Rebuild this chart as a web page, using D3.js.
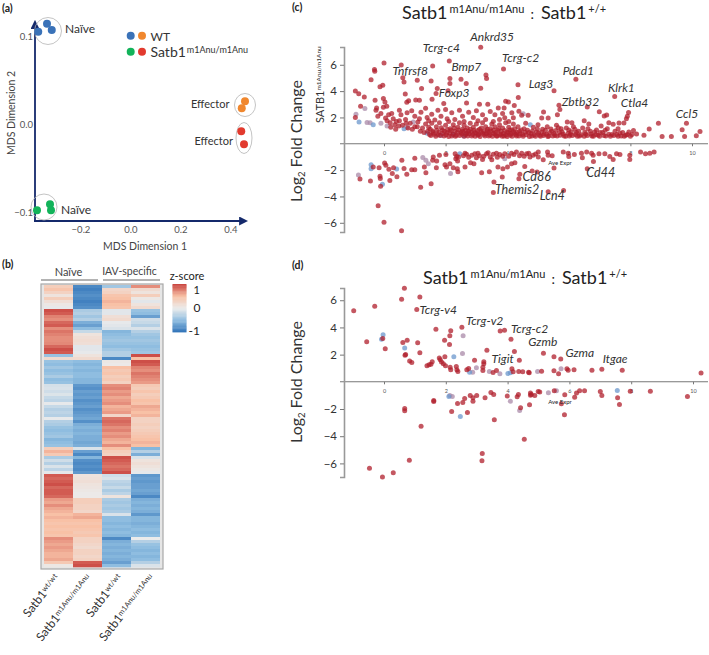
<!DOCTYPE html>
<html><head><meta charset="utf-8">
<script src="https://cdn.jsdelivr.net/npm/d3@7"></script>
<style>html,body{margin:0;padding:0;background:#fff}svg{display:block}text{font-family:Lato,"Open Sans",sans-serif}</style>
</head><body><svg id="c" width="709" height="655"></svg>
<script>
// ---------- panel (a) MDS ----------
const mdsWtNaive=[[-0.336,0.115],[-0.317,0.108],[-0.371,0.106]];
const mdsWtEff=[[0.456,0.027],[0.443,0.019]];
const mdsMutNaive=[[-0.376,-0.097],[-0.324,-0.09],[-0.32,-0.097]];
const mdsMutEff=[[0.441,-0.007],[0.452,-0.022]];
const mdsXTicks=[-0.2,0,0.2,0.4];
const mdsYTicks=[-0.1,0,0.1];
// ---------- panel (b) heatmap z-scores ----------
const hmCol1=[.35,.45,.3,.1,.35,.15,.05,-.02,.95,.9,.75,.7,.85,.9,.7,.8,.75,.7,.7,.72,.85,.95,.9,-.45,.2,-.45,-.5,-.4,-.5,-.45,-.35,-.5,-.45,-.12,-.1,-.15,-.08,-.2,-.25,-.02,-.2,-.3,-.25,-.3,-.02,-.3,-.35,-.45,-.5,-.45,-.4,-.55,-.5,-.45,.35,.55,.4,-.35,-.15,-.3,-.1,-.25,-.03,.9,.85,.9,.95,.85,.9,.9,.85,.65,.6,.7,.6,.55,.5,.55,.5,.45,.5,.45,.5,.45,.7,.65,.6,.65,.6,.55,.55,.6,.4,.05];
const hmCol2=[-.85,-.9,-.85,-.8,-.85,-.9,-.85,-.8,-.35,-.3,-.4,-.3,-.6,-.7,-.5,-.2,.1,.15,.18,.15,-.05,-.05,-.02,.1,.2,-.5,-.55,-.5,-.55,-.5,-.5,-.55,-.55,-.75,-.8,-.7,-.75,-.7,-.8,-.75,-.7,-.8,-.75,-.7,-.65,-.8,-.6,-.55,-.6,-.55,-.6,-.6,-.65,-.6,-.1,-.7,-.85,-.55,-.8,-.85,-.8,-.85,-.75,.1,.12,.15,.1,.08,.05,.02,.02,.35,.35,.3,.3,.25,.55,.6,.5,.45,.5,.45,.4,.45,.3,.3,.25,.2,.3,.3,.25,.3,.9,.95];
const hmCol3=[-.4,.25,.3,.45,.5,.55,.5,.45,-.05,-.05,.15,.2,-.02,-.05,-.1,-.55,-.5,-.45,-.4,-.45,-.5,-.4,-.3,-.3,-.85,.05,.02,.5,.4,.45,.35,.4,.3,.7,.75,.65,.7,.6,.65,.7,.55,.6,.65,.25,.8,.85,.8,.7,.75,.65,.7,.6,.55,.7,.5,.35,.3,.95,.9,.85,.8,.85,.95,-.15,-.1,-.25,-.3,-.2,-.35,-.25,.1,-.35,-.4,-.35,-.4,-.35,-.1,-.5,-.5,-.55,-.5,-.55,-.5,-.55,-.85,-.6,-.55,-.6,-.55,-.6,-.55,-.6,-.7,-.5];
const hmCol4=[.7,.2,.1,.35,.05,-.05,.1,.2,-.45,-.5,-.7,-.15,-.2,-.3,-.1,-.3,-.4,-.45,-.4,-.45,-.5,-.45,-.4,.95,.5,.95,.9,.75,.7,.8,.75,.7,.65,.4,.35,.45,.35,.4,.5,.45,.6,.55,.5,.55,.3,.3,.35,.3,.35,.4,.45,.5,.55,.5,-.55,-.3,-.6,-.1,.1,.15,.1,.05,-.02,-.75,-.7,-.75,-.7,-.7,-.65,-.7,-.85,-.6,-.55,-.6,-.55,-.6,-.75,-.55,-.55,-.6,-.55,-.5,-.55,-.5,0,-.3,-.45,-.5,-.55,-.5,-.55,-.5,-.3,-.1];
const hmStops=[-1,-.5,0,.5,1];
const hmColors=["#2f72b8","#8fbde0","#ebebeb","#f8c1a6","#c8423d"];
// ---------- panel (c) MA plot ----------
const cRed=[[-.93,4],[-.82,3.8],[-.64,3.56],[-.42,4.86],[-.31,5.65],[-.3,5.5],[0,6.13],[-.13,4.33],[-.04,4.45],[.56,5.98],[.61,5.01],[.65,4.7],[1.08,4.83],[1.22,4.2],[.69,3.79],[.8,3.26],[.74,3.16],[1.03,3.33],[1.15,3.31],[1.53,4.76],[1.58,5.9],[1.73,4.2],[1.69,3.82],[1.56,3.38],[1.94,3.05],[2.14,4.96],[2.14,4.58],[2.12,6.28],[2.08,4.02],[2.5,4.91],[2.67,4.58],[3.14,7.33],[3.14,4.22],[3.31,5.22],[3.33,4.96],[2.68,3.1],[3.1,3],[3.37,3],[-.76,2.85],[-.29,3.3],[-.24,2.72],[-.26,2.54],[-.02,3.43],[.03,3.18],[.09,2.85],[-.02,2.78],[3.88,5.67],[4.35,4.48],[4.36,3.51],[5.52,4.02],[6.23,4.91],[7.49,3.59],[7.94,2.37],[7.9,2.09],[7.87,1.9],[6.99,2.44],[7.23,2.19],[7.15,2.11],[6.6,2.8],[5.68,2.93],[5.71,2.6],[5.63,2.21],[5.18,2.42],[5.33,1.96],[5.12,1.96],[3.95,3.23],[4.04,3.18],[4.23,2.9],[3.71,2.72],[3.9,2.72],[4.38,2.47],[4.47,2.16],[4.68,2.16],[3.92,1.98],[4.2,1.98],[8.91,1.55],[8.61,1.12],[8.44,.64],[9.03,.56],[9.33,.56],[9.76,.56],[9.82,1.55],[9.68,1.07],[10.14,.61],[10.26,.94],[7.79,1.58],[7.63,1.58],[7.6,1.14],[7.44,1.48],
[.15,2.2],[.3,1.9],[.5,2.55],[.55,2.2],[.7,1.85],[.75,2.35],[.9,2.5],[1,2.1],[1.15,1.9],[1.2,2.4],[1.35,2.7],[1.4,2],[1.55,2.25],[1.65,1.8],[1.75,2.55],[1.85,2.1],[2,2.6],[2.05,1.9],[2.2,2.35],[2.3,1.85],[2.45,2.55],[2.55,2.1],[2.6,1.7],[2.75,2.4],[2.9,2],[3,2.5],[3.05,1.75],[3.2,2.2],[3.3,1.85],[3.45,2.45],[3.55,1.7],[3.6,2.2],[3.75,1.85],[3.85,2.3],[4.05,1.7],[4.15,2.35],
[.2,1.6],[.35,1.45],[.5,1.75],[.6,1.4],[.85,1.55],[1,1.3],[1.1,1.65],[1.25,1.2],[1.35,1.5],[1.5,1.1],[1.55,1.55],[1.6,.85],[1.7,1.3],[1.75,.7],[1.8,1.6],[1.9,1.05],[1.95,.6],[2,1.4],[2.05,.85],[2.1,1.7],[2.15,1.15],[2.2,.6],[2.25,1.45],[2.3,.95],[2.35,.65],[2.4,1.25],[2.45,1.6],[2.5,.85],[2.55,1.1],[2.6,1.4],[2.65,.7],[2.7,1.2],[2.75,.95],[2.8,1.55],[2.85,.6],[2.9,1.25],[2.95,.85],[3,1.5],[3.05,.65],[3.1,1.1],[3.15,.9],[3.2,1.6],[3.25,.7],[3.3,1.3],[3.35,.95],[3.4,.6],[3.45,1.15],[3.5,1.5],[3.55,.8],[3.6,1.3],[3.65,.6],[3.7,1],[3.75,1.45],[3.8,.75],[3.85,1.2],[3.9,.6],[3.95,1.6],[4,.9],[4.05,1.25],[4.1,.65],[4.15,1.05],[4.2,1.5],[4.25,.8],[4.3,.6],[4.35,1.3],[4.4,.95],[4.5,.7],[4.55,1.15],[4.6,1.55],[4.7,.85],[4.8,.6],[4.85,1.25],[4.95,.9],[5,1.45],[5.05,.65],[5.15,1.1],[5.2,.75],[5.3,1.3],[5.35,.6],[5.45,.95],[5.55,.65],[5.6,1.4],[5.7,.85],[5.75,1.15],[5.85,.6],[5.95,1.65],[6,1.05],[6.05,.7],[6.1,1.6],[6.15,1.3],[6.25,.85],[6.35,.6],[6.45,1.2],[6.5,1.75],[6.55,.75],[6.65,1.5],[6.7,.95],[6.75,.6],[6.9,1.05],[6.95,.65],[7.05,1.35],[7.1,.85],[7.2,.6],[7.25,1.15],[7.3,1.6],[7.4,.7],[7.5,.95],[7.7,.6],[7.75,.85],[7.85,.65],[7.95,.9],[8.05,.7],[8.1,1],[8.2,.75],
[-.93,2],[.05,1.95],[.25,2.3],[.4,1.7],[1.45,1.75],[-.2,2.1],[-.1,2.3],[.1,1.75],
[1.52,.62],[1.58,.98],[1.63,.72],[1.68,.58],[1.72,1.02],[1.78,.88],[1.82,.62],[1.86,1.22],[1.9,.78],[1.96,.95],[2.02,.68],[2.06,1.08],[2.1,.56],[2.14,.82],[2.18,1],[2.24,.72],[2.28,1.2],[2.32,.58],[2.38,.88],[2.42,1.05],[2.46,.62],[2.52,.74],[2.56,.95],[2.6,.58],[2.64,1.02],[2.68,.82],[2.72,.6],[2.76,.76],[2.8,1.1],[2.84,.9],[2.88,.7],[2.92,1.02],[2.96,.58],[3,.8],[3.04,1],[3.08,.72],[3.12,.56],[3.16,1.2],[3.2,.82],[3.24,.98],[3.28,.6],[3.32,.76],[3.36,1.1],[3.4,.85],[3.44,.66],[3.48,.98],[3.52,.58],[3.56,1.05],[3.6,.74],[3.64,.88],[3.68,.6],[3.72,1.15],[3.76,.66],[3.8,.95],[3.84,.58],[3.88,.78],[3.92,1],[3.96,.66],[4,.56],[4.04,.85],[4.08,1.05],[4.12,.76],[4.16,.58],[4.2,.92],[4.24,1.15],[4.28,.7],[4.32,.88],[4.38,.6],[4.42,.75],[4.46,1.05],[4.52,.58],[4.58,.88],[4.62,.68],[4.66,1.02],[4.72,.56],[4.78,.78],[4.82,.98],[4.88,.66],[4.92,.58],[4.98,1.12],[5.02,.82],[5.08,.58],[5.12,.9],[5.18,.62],[5.24,1.02],[5.28,.72],[5.32,.56],[5.38,.84],[5.42,1.12],[5.48,.6],[5.52,.78],[5.58,1],[5.62,.6],[5.66,1.22],[5.72,.65],[5.78,.92],[5.82,.74],[5.9,.58],[5.92,1.2],[5.98,.8],[6.02,.6],[6.08,.92],[6.12,.62],[6.2,1.1],[6.22,.7],[6.28,.58],[6.32,.95],[6.4,.68],[6.5,.58],[6.52,.88],[6.6,.62],[6.62,1.15],[6.72,.75],[6.8,.58],[6.84,.9],[6.88,.7],[7.0,.58],[7.02,.85],[7.14,.62],[7.18,1.02],[7.3,.72],[7.35,.58],[7.46,.62],[7.56,.7],[7.6,.58],[7.66,.82],[7.8,.58],[7.9,.7],[8,.58],
[.22,1.25],[.38,1.1],[.48,1.35],[.72,1.55],[.78,1.2],[.92,1.1],[1.08,1.3],[1.18,.95],[1.3,.85],[1.42,.95],[1.45,1.25],[1.48,.7],
[-.78,-2.68],[-.44,-2.83],[-.35,-1.77],[-.16,-1.82],[-.13,-2.47],[-.12,-2.63],[-.11,-3.23],[-.19,-4.7],[0,-5.96],[.57,-6.6],[.02,-1.46],[.06,-1.64],[.16,-1.94],[.31,-1.82],[.27,-2.25],[.42,-2.5],[.19,-2.78],[.58,-1.26],[.65,-1.87],[.74,-2.32],[.9,-1.97],[1,-1.97],[1,-1.09],[1.31,-1.77],[1.36,-2.2],[1.19,-3.31],[1.53,-3.03],[1.6,-1.01],[1.58,-1.26],[1.71,-1.31],[1.7,-1.82],[1.8,-.88],[2.01,-.81],[1.98,-1.6],[2.03,-1.77],[2.14,-1.52],[2.31,-.76],[2.36,-.96],[2.33,-1.14],[2.39,-1.31],[2.25,-1.82],[2.38,-1.89],[2.4,-2.12],[2.63,-1.77],[2.63,-.71],[2.68,-.8],[2.85,-.88],[2.95,-.76],[3,-1.06],[2.81,-1.44],[2.92,-1.52],[3.17,-2.2],[3.42,-2.12],[3.57,-2.9],[3.55,-3.7],[3.33,-.76],[3.1,-.9],[3.2,-1.2],[3.45,-1],[3.55,-.8],
[2.42,-1.0],[2.58,-.9],[2.75,-1.02],[3.05,-.72],[3.24,-.95],[3.38,-.68],[3.5,-1.22],[3.68,-1.02],[3.85,-.95],[4.05,-.95],[4.22,-.82],[4.4,-.9],[4.55,-.95],[4.7,-.72],[4.92,-.78],
[3.7,-1.77],[3.86,-1.89],[4.01,-1.77],[4.14,-1.52],[4.25,-1.44],[3.84,-2.53],[4.41,-2.32],[4.38,-2.65],[4.57,-1.72],[4.81,-2.07],[4.97,-2.15],[5.33,-3.64],[5.83,-3.54],[5.52,-1.84],[6.6,-1.89],[6.8,-1.34],[7.98,-1.19],
[3.65,-.71],[3.76,-.81],[3.92,-.76],[4.14,-.71],[4.3,-.63],[4.47,-.71],[4.63,-.76],[4.74,-1.01],[4.84,-.88],[5.01,-.63],[5.01,-1.01],[5.17,-1.22],[5.31,-.63],[5.33,-.88],[5.46,-.91],[5.82,-.63],[5.98,-.71],[6,-.96],[6.18,-.81],[6.41,-.71],[6.44,-1.06],[6.58,-.63],[6.74,-.71],[6.79,-.88],[6.98,-.76],[7.17,-.76],[7.33,-.96],[7.44,-1.19],[7.55,-.76],[7.66,-.81],[7.98,-.88],[8.33,-.63],[8.49,-.76],[8.63,-.71],[8.77,-.63]];
const cPurple=[[-.62,2.67],[-.91,2.24],[-.55,1.62],[-.45,1.6],[-.1,1.55],[.1,1.35],[.75,1.25],[.95,1.65],[4.52,2.29],[-.83,-2.37],[1.26,-1.04],[1.36,-1.26],[1.44,-1.52],[2.16,-2.25],[3.92,-1.14]];
const cBlue=[[-.81,1.65],[-.35,1.45],[.65,1.15],[1.4,.8],[1.85,.65],[2.25,.7],[2.7,.8],[2.6,.6],[4.75,1.45],[-.42,-1.6],[-.42,-1.9],[.41,-1.92],[-.05,-3.08],[2.46,-.76]];
// ---------- panel (d) MA plot ----------
const dRed=[[-.98,5.22],[-.3,5.56],[.57,6.08],[.66,6.89],[1.16,6.23],[1.06,5.32],[-.56,2.94],[-.04,3.19],[.04,2.43],[.61,2.89],[.75,3.06],[1.09,2.87],[1.16,2.13],[.68,1.96],[.7,2.01],[.83,1.54],[.9,1.42],[1.39,1.18],[1.46,1.25],[1.52,1.3],[1.56,1.47],[1.68,3.87],[2.16,3.75],[2.13,3.38],[1.96,3.06],[2.12,2.75],[2.52,4.02],[3.33,2.33],[2.93,1.59],[3.23,1.47],[3.23,1.32],[1.79,1.76],[1.82,1.62],[1.86,1.45],[1.92,1.32],[1.97,1.84],[1.99,1.18],[2.14,1.08],[2.16,.88],[2.34,1.13],[2.36,.88],[2.39,.76],[2.68,.88],[2.74,.98],[3.2,1.08],[3.2,.83],[3.53,.69],[3.76,3.73],[3.9,3.8],[4.11,3.14],[4.22,2.23],[4.38,1.59],[5.16,2.11],[5.5,1.84],[5.72,1.67],[3.64,.83],[4.14,.96],[4.18,.74],[4.36,.76],[4.49,.74],[4.68,.71],[4.7,.66],[5.1,.78],[5.5,.81],[5.65,.59],[5.92,.96],[5.96,.86],[6.15,.88],[6.73,.86],[7.05,.93],[7.71,.86],[10.26,.64],
[-.47,-6.35],[-.05,-7],[.3,-6.69],[.82,-5.76],[1.2,-3.26],[.67,-1.96],[.67,-2.13],[1.61,-1.37],[1.61,-1.45],[2.38,-1.59],[2.55,-1.52],[2.61,-1.23],[2.19,-2.18],[2.7,-2.25],[2.79,-1],[2.88,-1.18],[2.88,-1.42],[3,-1],[3.27,-1.18],[3.46,-.78],[3.55,-.93],[3.57,-2.79],[3.18,-5.27],[3.17,-5.81],[3.99,-1.05],[4.31,-1.1],[4.35,-.93],[4.42,-1.91],[4.54,-4.22],[4.71,-1.69],[4.74,-.83],[4.74,-.98],[4.77,-.93],[4.88,-1],[4.99,-.71],[5.04,-.74],[5.51,-.66],[5.74,-1.62],[5.85,-.96],[5.84,-2.43],[6.17,-1.13],[6.23,-.83],[6.33,-.66],[6.49,-.66],[7,-.71],[7.05,-1],[7.56,-1.18],[7.62,-1.67],[7.97,-.69],[8.62,-.69],[9.82,-1.08]];
const dPurple=[[2.56,3.38],[2.54,2.08],[2.87,.71],[2.99,1.03],[3.41,.76],[3.75,.59],[4.97,.76],[5.73,.96],[2.13,-1],[2.21,-1.08],[4.09,-1.42],[4.39,-2.11],[5.32,-.81],[5.58,-.66]];
const dBlue=[[-.03,3.46],[-.08,3.14],[.67,2.48],[2.26,1.84],[2.77,.71],[4.01,.61],[4.09,.66],[2.1,-1.08],[2.47,-2.55],[7.55,-.64]];
const maXTicks=[0,2,4,6,8,10];
const maYTicks=[-6,-4,-2,2,4,6];
// gene labels
const cGenes=["Tcrg-c4","Ankrd35","Tnfrsf8","Bmp7","Foxp3","Tcrg-c2","Lag3","Pdcd1","Klrk1","Zbtb32","Ctla4","Ccl5"];
const cGeneAt=[[1.26,7.0],[2.8,7.8],[.28,5.2],[2.19,5.5],[1.78,3.55],[3.83,6.2],[4.7,4.2],[5.8,5.2],[7.27,3.9],[5.77,2.85],[7.69,2.8],[9.47,1.95]];
const cGenesLow=["Cd44","Cd86","Themis2","Lcn4"];
const cGeneLowAt=[[6.57,-2.5],[4.5,-2.8],[3.6,-3.8],[5.06,-4.3]];
const dGenes=["Tcrg-v4","Tcrg-v2","Tcrg-c2","Gzmb","Gzma","Itgae","Tigit"];
const dGeneAt=[[1.15,5],[2.65,4.2],[4.11,3.6],[4.67,2.65],[5.87,1.85],[7.08,1.4],[3.48,1.4]];

const svg=d3.select("#c");
const NAVY="#14296b", TXT="#333";
const add=(t,x,y,s,o={})=>svg.append("text").attr("x",x).attr("y",y).attr("font-size",s).attr("fill",o.fill||TXT)
  .attr("text-anchor",o.anchor||"start").attr("font-style",o.style||null).attr("font-weight",o.weight||null)
  .attr("font-family",o.family||null).attr("transform",o.rot?`rotate(${o.rot} ${x} ${y})`:null).text(t);
function rich(x,y,parts,o={}){
  const t=svg.append("text").attr("x",x).attr("y",y).attr("fill",o.fill||TXT).attr("text-anchor",o.anchor||"start")
    .attr("transform",o.rot?`rotate(${o.rot} ${x} ${y})`:null);
  parts.forEach(p=>{t.append("tspan").attr("font-size",p[1]).attr("dy",p[2]||0).attr("dx",p[3]||0).text(p[0]);});
  return t;
}
["(a)","(b)","(c)","(d)"].forEach((l,i)=>add(l,[2,2,292,292][i],[12,268,11,269][i],10.5,{weight:"bold",family:"Liberation Sans",fill:"#222"}));

// ---- panel a
const ax=d3.scaleLinear().domain([0,.4]).range([131,231]);
const ay=d3.scaleLinear().domain([-.1,.1]).range([213,37]);
svg.append("defs").append("marker").attr("id","arr").attr("viewBox","0 0 10 10").attr("refX",1).attr("refY",5)
 .attr("markerWidth",9).attr("markerHeight",9).attr("markerUnits","userSpaceOnUse").attr("orient","auto")
 .append("path").attr("d","M0,0L10,5L0,10Z").attr("fill",NAVY);
svg.append("line").attr("x1",35).attr("y1",221).attr("x2",35).attr("y2",28).attr("stroke",NAVY).attr("stroke-width",1.8).attr("marker-end","url(#arr)");
svg.append("line").attr("x1",34).attr("y1",221).attr("x2",240).attr("y2",221).attr("stroke",NAVY).attr("stroke-width",1.8).attr("marker-end","url(#arr)");
mdsXTicks.forEach(v=>add(d3.format(".1f")(v),ax(v),232.5,9.5,{anchor:"middle",fill:"#555"}));
mdsYTicks.forEach(v=>add(d3.format(".1f")(v),33,ay(v)+3,9.5,{anchor:"end",fill:"#555"}));
add("MDS Dimension 1",145,250,10.5,{anchor:"middle",fill:"#444"});
add("MDS Dimension 2",11,113,10.5,{anchor:"middle",rot:-90,fill:"#444"}).attr("dy",4);
[[48,31,13.5,13.5],[44,207,13,13],[245,105,10.5,11.5],[244,138,8,15.5]].forEach(e=>svg.append("ellipse").attr("cx",e[0]).attr("cy",e[1]).attr("rx",e[2]).attr("ry",e[3]).attr("fill","none").attr("stroke","#b5b5b5").attr("stroke-width",.8));
[[mdsWtNaive,"#3a72b8"],[mdsWtEff,"#f0872e"],[mdsMutNaive,"#12b35a"],[mdsMutEff,"#e23a2e"]].forEach(([d,c])=>
 svg.append("g").selectAll("circle").data(d).join("circle").attr("cx",p=>ax(p[0])).attr("cy",p=>ay(p[1])).attr("r",4).attr("fill",c));
[[130.7,35.7,"#3a72b8"],[142,35.7,"#f0872e"],[130.7,51.7,"#12b35a"],[142,51.7,"#e23a2e"]].forEach(l=>svg.append("circle").attr("cx",l[0]).attr("cy",l[1]).attr("r",4).attr("fill",l[2]));
add("WT",150.5,41,12,{fill:"#333"});
rich(150.5,57,[["Satb1",14],["m1Anu/m1Anu",9,-4,1]]);
add("Naïve",65,33,12);add("Naïve",61,214,12);add("Effector",191,108,11);add("Effector",194.5,145,11);

// ---- panel b
const hmCols=[hmCol1,hmCol2,hmCol3,hmCol4];
const hmColor=d3.scaleLinear().domain(hmStops).range(hmColors);
svg.append("rect").attr("x",41).attr("y",284).attr("width",122).attr("height",285).attr("fill","#e6e6e6").attr("stroke","#a8a8a8").attr("stroke-width",1.2);
const hx=d3.scaleBand().domain([0,1,2,3]).range([44,160]);
const hy=d3.scaleBand().domain(d3.range(hmCol1.length)).range([285,567]);
hmCols.forEach((col,i)=>svg.append("g").selectAll("rect").data(col).join("rect")
  .attr("x",hx(i)).attr("width",hx.bandwidth()).attr("y",(d,j)=>hy(j)).attr("height",hy.bandwidth()+.3).attr("fill",d=>hmColor(d)));
add("Naïve",68.5,276,11,{anchor:"middle",fill:"#444"});
add("IAV-specific",129.5,275,10.5,{anchor:"middle",fill:"#444"});
[[41,98],[103,160]].forEach(l=>svg.append("line").attr("x1",l[0]).attr("x2",l[1]).attr("y1",280).attr("y2",280).attr("stroke","#555").attr("stroke-width",.9));
[[60,"wt/wt"],[92,"m1Anu/m1Anu"],[123,"wt/wt"],[155,"m1Anu/m1Anu"]].forEach(l=>rich(l[0],578,[["Satb1",12],[l[1],7.5,-3]],{anchor:"end",rot:-52}));
// colour bar
const barY=d3.scaleLinear().domain([-1,1]).range([332,284]);
svg.append("g").selectAll("rect").data(d3.range(-1,1,.05)).join("rect").attr("x",172.5).attr("width",14)
  .attr("y",d=>barY(d+.05)).attr("height",1.6).attr("fill",d=>hmColor(d+.025));
add("z-score",187,280,11,{anchor:"middle",fill:"#222"});
add("1",193.5,294,11,{fill:"#222"});add("0",193.5,312,12,{fill:"#222"});add("-1",188.5,335,12,{fill:"#222"});

// ---- panels c & d
function ma(xs,ys,red,purple,blue,labelY,genes,at,axisEnd){
  const gx=svg.append("g").attr("transform",`translate(0,${ys(0)})`).call(d3.axisBottom(xs).tickValues(maXTicks).tickSize(2.5).tickPadding(5));
  gx.select(".domain").remove();
  svg.append("line").attr("x1",340).attr("x2",axisEnd).attr("y1",ys(0)).attr("y2",ys(0)).attr("stroke","#777").attr("stroke-width",1.1);
  gx.selectAll("text").attr("font-size",5.5).attr("fill","#555").style("font-family","Lato");
  gx.selectAll("line").attr("stroke","#777");
  const gy=svg.append("g").attr("transform","translate(344,0)").call(d3.axisLeft(ys).tickValues(maYTicks).tickSize(4).tickPadding(3).tickFormat(d3.format("d")));
  gy.select(".domain").attr("stroke","#999").attr("stroke-width",1.6);
  gy.selectAll("line").attr("stroke","#777");
  gy.selectAll("text").attr("font-size",11.5).attr("fill","#333").style("font-family","Lato");
  [[purple,"#a98aa8"],[blue,"#6b97cc"],[red,"#b01f2c"]].forEach(([d,c])=>
    svg.append("g").selectAll("circle").data(d).join("circle").attr("cx",p=>xs(p[0])).attr("cy",p=>ys(p[1])).attr("r",2.5).attr("fill",c).attr("opacity",.75));
  add("Ave Expr",560,ys(0)+labelY,6,{anchor:"middle",fill:"#222"});
  genes.forEach((g,i)=>add(g,xs(at[i][0]),ys(at[i][1]),12,{style:"italic",fill:"#333"}));
}
const cx=d3.scaleLinear().domain([0,10]).range([384,692]);
const cy=d3.scaleLinear().domain([-6.7,7.35]).range([232,47]);
ma(cx,cy,cRed,cPurple,cBlue,21.5,cGenes,cGeneAt,708);
cGenesLow.forEach((g,i)=>add(g,cx(cGeneLowAt[i][0]),cy(cGeneLowAt[i][1]),12.5,{style:"italic",fill:"#333"}));
const dx=d3.scaleLinear().domain([0,10]).range([384,693]);
const dy=d3.scaleLinear().domain([-7,6.9]).range([477,288]);
ma(dx,dy,dRed,dPurple,dBlue,22,dGenes,dGeneAt,708);
rich(402,19,[["Satb1",18],["m1Anu/m1Anu",11,-6,2],[":",14,6,6],["Satb1",18,0,7],["+/+",11,-6,2]],{fill:"#222"});
rich(423,284,[["Satb1",18],["m1Anu/m1Anu",11,-6,2],[":",14,6,6],["Satb1",18,0,7],["+/+",11,-6,2]],{fill:"#222"});
rich(302,202,[["Log",16],["2",9.5,3],[" Fold Change",16,-3]],{rot:-90});
rich(302,443,[["Log",16],["2",9.5,3],[" Fold Change",16,-3]],{rot:-90});
rich(323.5,123,[["SATB1",11],["m1Anu/m1Anu",6.5,-3]],{rot:-90});
</script></body></html>
